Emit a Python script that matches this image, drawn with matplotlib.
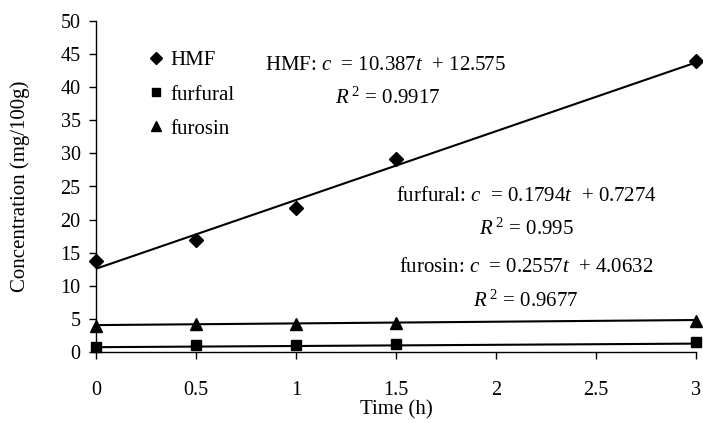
import matplotlib
matplotlib.use("Agg")
import numpy as np
import matplotlib.pyplot as plt

plt.rcParams["font.family"] = ["Liberation Serif", "DejaVu Serif"]
plt.rcParams["mathtext.fontset"] = "custom"
plt.rcParams["mathtext.rm"] = "Liberation Serif"
plt.rcParams["mathtext.it"] = "Liberation Serif:italic"

time_h = [0, 0.5, 1, 1.5, 3]
hmf = [13.7, 16.9, 21.7, 29.1, 43.9]
furfural = [0.8, 1.0, 1.0, 1.15, 1.45]
furosin = [3.9, 4.2, 4.2, 4.4, 4.7]

# fitted lines c = a*t + b
hmf_fit = (10.387, 12.575)
furfural_fit = (0.1794, 0.7274)
furosin_fit = (0.2557, 4.0632)

x_ticks = [0, 0.5, 1, 1.5, 2, 2.5, 3]
y_ticks = list(range(0, 51, 5))

fs = 15

fig = plt.figure(figsize=(7.03, 4.23), dpi=100)
ax = fig.add_axes([96 / 703, 1 - 352 / 423, 600 / 703, 331 / 423])

t_line = np.array([0, 3])
for (a, b) in (hmf_fit, furfural_fit, furosin_fit):
    ax.plot(t_line, a * t_line + b, color="black", lw=1.5, zorder=2)

ax.plot(time_h, hmf, ls="none", marker="D", ms=7, color="black", label="HMF", zorder=3, clip_on=False)
ax.plot(time_h, furfural, ls="none", marker="s", ms=7.5, color="black", label="furfural", zorder=3, clip_on=False)
ax.plot(time_h, furosin, ls="none", marker="^", ms=8, color="black", label="furosin", zorder=3, clip_on=False)

ax.set_xlim(0, 3)
ax.set_ylim(0, 50)
ax.set_xticks(x_ticks)
ax.set_xticklabels(["0", "0.5", "1", "1.5", "2", "2.5", "3"])
ax.set_yticks(y_ticks)
ax.tick_params(axis="x", direction="out", length=5, width=1, pad=16, labelsize=14.5)
ax.tick_params(axis="y", direction="out", length=5, width=1, pad=6, labelsize=14.5)
for s in ("top", "right"):
    ax.spines[s].set_visible(False)
for s in ("left", "bottom"):
    ax.spines[s].set_linewidth(1)

ax.set_xlabel("Time (h)", fontsize=fs, labelpad=0)
ax.set_ylabel("Concentration (mg/100g)", fontsize=fs, labelpad=22)

ax.legend(loc="upper left", bbox_to_anchor=(0.077, 0.935), frameon=False, fontsize=fs,
          handlelength=0.5, handletextpad=0.45, labelspacing=0.7, borderaxespad=0,
          markerscale=0.85)

ax.text(0.845, 43.3, "HMF: $c$  = 10.387$t$  + 12.575", fontsize=fs, ha="left", va="center")
ax.text(1.195, 38.3, "$R$$^{\\ 2}$ = 0.9917", fontsize=fs, ha="left", va="center")
ax.text(2.15, 23.5, "furfural: $c$  = 0.1794$t$  + 0.7274", fontsize=fs, ha="center", va="center")
ax.text(2.15, 18.5, "$R$$^{\\ 2}$ = 0.995", fontsize=fs, ha="center", va="center")
ax.text(2.15, 12.7, "furosin: $c$  = 0.2557$t$  + 4.0632", fontsize=fs, ha="center", va="center")
ax.text(2.15, 7.7, "$R$$^{\\ 2}$ = 0.9677", fontsize=fs, ha="center", va="center")

fig.savefig("out.png", dpi=100)
